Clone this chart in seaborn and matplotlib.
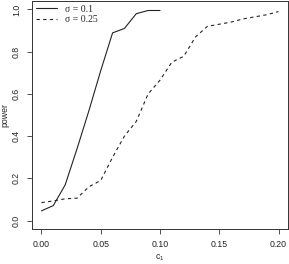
import pandas as pd
import seaborn as sns
import matplotlib
matplotlib.use("Agg")
import matplotlib.pyplot as plt

# power curves
c1_small = [0.00, 0.01, 0.02, 0.03, 0.04, 0.05, 0.06, 0.07, 0.08, 0.09, 0.10]
power_small = [0.046, 0.071, 0.169, 0.34, 0.52, 0.71, 0.889, 0.91, 0.98, 0.995, 0.995]

c1_large = [0.00, 0.01, 0.02, 0.03, 0.04, 0.05, 0.06, 0.07, 0.08, 0.09, 0.10,
            0.11, 0.12, 0.13, 0.14, 0.15, 0.16, 0.17, 0.18, 0.19, 0.20]
power_large = [0.085, 0.093, 0.103, 0.106, 0.16, 0.19, 0.30, 0.40, 0.47, 0.60, 0.665,
               0.75, 0.778, 0.87, 0.92, 0.93, 0.94, 0.955, 0.965, 0.975, 0.99]

labels = ["\u03c3 = 0.1", "\u03c3 = 0.25"]
x_ticks = [0.00, 0.05, 0.10, 0.15, 0.20]
x_ticklabels = ["0.00", "0.05", "0.10", "0.15", "0.20"]
y_ticks = [0.0, 0.2, 0.4, 0.6, 0.8, 1.0]
y_ticklabels = ["0.0", "0.2", "0.4", "0.6", "0.8", "1.0"]

df = pd.concat([
    pd.DataFrame({"c1": c1_small, "power": power_small, "sigma": labels[0]}),
    pd.DataFrame({"c1": c1_large, "power": power_large, "sigma": labels[1]}),
])

sns.set_style("ticks")
plt.rcParams["font.family"] = ["Liberation Sans", "DejaVu Sans"]
plt.rcParams["mathtext.fontset"] = "custom"
plt.rcParams["mathtext.rm"] = "Liberation Sans"
plt.rcParams["mathtext.it"] = "Liberation Sans"

fig = plt.figure(figsize=(2.89, 2.64), dpi=100)
ax = fig.add_axes([0.1107, 0.1326, 0.8858, 0.8636])

sns.lineplot(data=df, x="c1", y="power", style="sigma",
             dashes={labels[0]: "", labels[1]: (3, 3)},
             color="#222222", linewidth=0.8, ax=ax, legend=False)

ax.set_xlim(-0.008, 0.208)
ax.set_ylim(-0.04, 1.04)
ax.set_xticks(x_ticks)
ax.set_xticklabels(x_ticklabels)
ax.set_yticks(y_ticks)
ax.set_yticklabels(y_ticklabels, rotation=90, va="center")
ax.tick_params(axis="both", labelsize=6.3, length=3.5, width=0.6, pad=4.5,
               color="#333333", labelcolor="#222222")
for sp in ax.spines.values():
    sp.set_linewidth(0.7)
    sp.set_color("#333333")

ax.set_xlabel(r"$\mathregular{c_1}$", fontsize=6.3, labelpad=2.5)
ax.set_ylabel("power", fontsize=6.3, labelpad=2)

# R-style legend, no frame, serif text
handles = [plt.Line2D([], [], color="#222222", lw=0.8),
           plt.Line2D([], [], color="#222222", lw=0.8, dashes=(3, 3))]
ax.legend(handles, labels, loc="upper left", frameon=False,
          prop={"family": "Liberation Serif", "size": 7},
          handlelength=2.2, handletextpad=0.8, labelspacing=0.15,
          borderaxespad=0.2, borderpad=0.2)

fig.savefig("out.png", dpi=100)
